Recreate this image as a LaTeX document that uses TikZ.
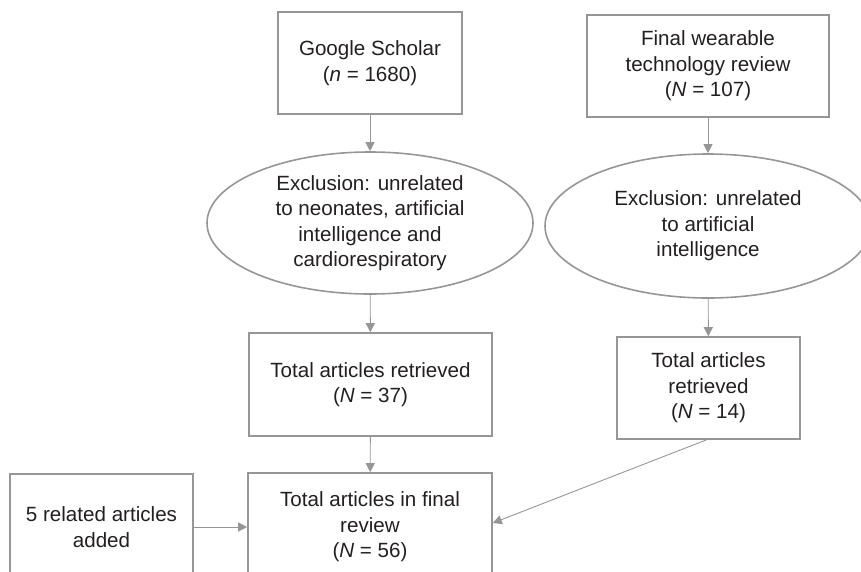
\documentclass[tikz,border=0pt]{standalone}
\usepackage{fontspec}
\setmainfont{Liberation Sans}
\usetikzlibrary{shapes.geometric,arrows.meta}
\definecolor{linegray}{RGB}{150,150,150}
\definecolor{txt}{RGB}{35,31,32}
\begin{document}
\begin{tikzpicture}[x=1pt,y=-1pt,
  every node/.style={text=txt,font=\fontsize{20.6}{25.5}\selectfont,align=center,inner sep=0pt},
  flowbox/.style={draw=linegray,line width=1.6pt,rectangle},
  exclell/.style={draw=linegray,line width=1.6pt,ellipse},
  conn/.style={draw=linegray,line width=0.9pt,-{Triangle[length=9pt,width=9pt]}}]
\path[use as bounding box] (0,0) rectangle (861,571);
\clip (0,0) rectangle (861,571);
\node[flowbox,minimum width=184pt,minimum height=102pt] (gs) at (370,63) {Google Scholar\\(\textit{n} = 1680)};
\node[flowbox,minimum width=242pt,minimum height=102pt] (fw) at (708,66) {Final wearable\\technology review\\(\textit{N} = 107)};
\node[exclell,minimum width=326pt,minimum height=142pt] (e1) at (370,223) {Exclusion: unrelated\\to neonates, artificial\\intelligence and\\cardiorespiratory};
\node[exclell,minimum width=326pt,minimum height=144pt] (e2) at (708,226) {Exclusion: unrelated\\to artificial\\intelligence};
\node[flowbox,minimum width=243pt,minimum height=103pt] (r1) at (370.5,384.5) {Total articles retrieved\\(\textit{N} = 37)};
\node[flowbox,minimum width=183pt,minimum height=102pt] (r2) at (708.5,388) {Total articles\\retrieved\\(\textit{N} = 14)};
\node[flowbox,minimum width=244pt,minimum height=108pt] (fin) at (370,527) {Total articles in final\\review\\(\textit{N} = 56)};
\node[flowbox,minimum width=183pt,minimum height=106pt] (add) at (101.5,527) {5 related articles\\added};
\draw[conn] (gs) -- (e1);
\draw[conn] (fw) -- (e2);
\draw[conn] (e1) -- (r1);
\draw[conn] (e2) -- (r2);
\draw[conn] (r1) -- (fin);
\draw[conn] (add) -- (fin);
\draw[conn] ([xshift=-2pt]r2.south) -- ([yshift=4pt]fin.east);
\end{tikzpicture}
\end{document}
